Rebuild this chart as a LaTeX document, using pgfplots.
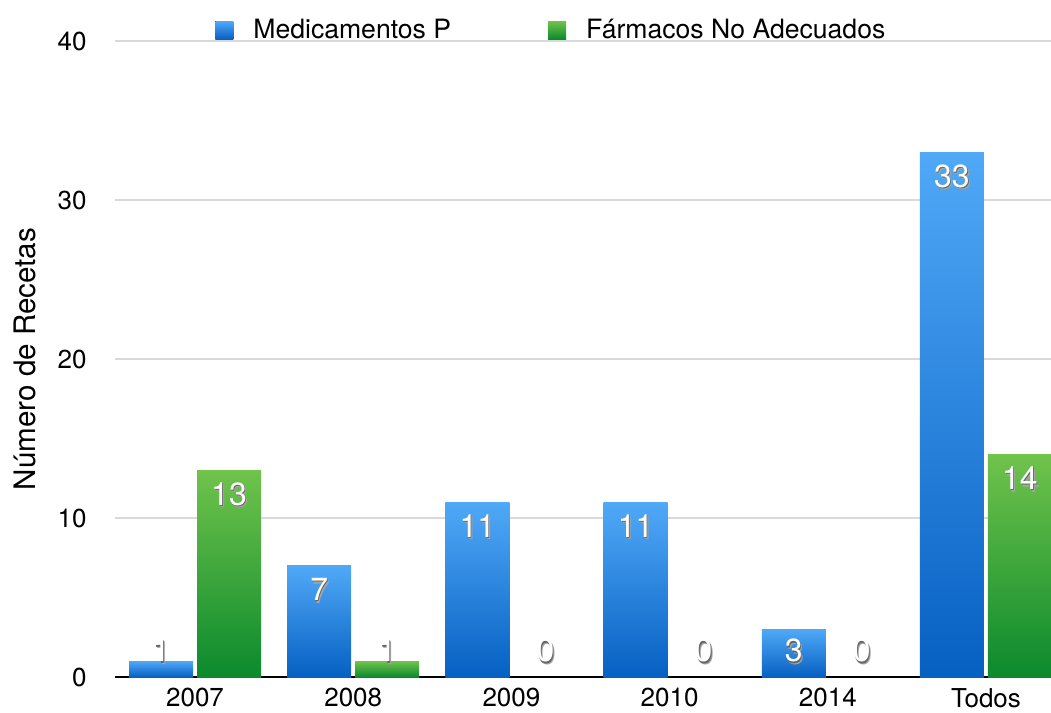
\documentclass[border=0pt]{standalone}
\usepackage{fontspec}
\setmainfont{TeX Gyre Heros}
\usepackage{pgfplots}
\usepackage{pgfplotstable}
\pgfplotsset{compat=1.18}

\definecolor{bluetop}{HTML}{50A9F7}
\definecolor{bluebot}{HTML}{0660C2}
\definecolor{greentop}{HTML}{70C34B}
\definecolor{greenbot}{HTML}{0B8A2D}
\definecolor{gridgray}{HTML}{D9D9D9}

% white label with a soft dark drop shadow
\newcommand\shadowed[1]{%
  \makebox[0pt][l]{\hspace{0.9pt}\raisebox{-1.3pt}{\smash{\color{black!35}#1}}}%
  \makebox[0pt][l]{\hspace{0.4pt}\raisebox{-0.7pt}{\smash{\color{black!60}#1}}}%
  #1}

% axis is 468pt wide over 5.917 units -> 79.09pt per category; 318pt/40 -> 7.95pt per unit
% each bar is a shaded node hung from its data point down to y=0
\pgfplotsset{
  shaded bar/.style n args={3}{
    draw=none, mark=none,
    y filter/.expression={y==0 ? nan : y},
    nodes near coords={},
    nodes near coords style={anchor=north, inner sep=0pt, outer sep=0pt,
        minimum width=32pt, minimum height={\rawy*7.95pt},
        xshift=#1, top color=#2, bottom color=#3, draw=none},
    legend image code/.code={\fill[top color=#2, bottom color=#3]
        (0pt,-4.5pt) rectangle (9pt,4.5pt);},
  },
  value labels/.style={
    draw=none, mark=none, forget plot,
    nodes near coords={\shadowed{\pgfmathprintnumber{\pgfplotspointmeta}}},
    nodes near coords style={anchor=center, text=white,
        font=\fontsize{16}{16}\selectfont, xshift=#1,
        yshift={max(-12.5,12.7-7.95*\rawy)}},
  },
}

% x: 0=2007 1=2008 2=2009 3=2010 4=2014 5=Todos
\pgfplotstableread{
x y
0 1
1 7
2 11
3 11
4 3
5 33
}\medp
\pgfplotstableread{
x y
0 13
1 1
2 0
3 0
4 0
5 14
}\farm

\begin{document}
\begin{tikzpicture}
\begin{axis}[
    scale only axis,
    width=468pt, height=318pt,
    xmin=-0.506, xmax=5.411,
    ymin=0, ymax=40,
    ytick={0,10,20,30,40},
    xtick={0,1,2,3,4,5},
    xticklabels={2007,2008,2009,2010,2014,Todos},
    major tick length=0pt,
    ymajorgrids,
    grid style={gridgray, line width=0.75pt},
    axis x line*=bottom,
    axis y line*=left,
    x axis line style={black, line width=1pt, -},
    y axis line style={draw=none},
    /pgf/number format/assume math mode=true,
    tick label style={font=\fontsize{13}{15}\selectfont},
    yticklabel style={anchor=east, inner sep=0pt},
    yticklabel shift=14pt,
    xticklabel style={anchor=north, inner sep=0pt, yshift=-5.5pt},
    ylabel={Número de Recetas},
    ylabel style={at={(axis description cs:-0.096,0.5)}, anchor=center,
        font=\fontsize{14.8}{16}\selectfont},
    clip=false,
    legend columns=2,
    legend style={at={(axis description cs:0.1068,1.017)}, anchor=west,
        draw=none, fill=none, inner sep=0pt,
        font=\fontsize{13.3}{15}\selectfont,
        /tikz/every odd column/.append style={column sep=8pt},
        /tikz/every even column/.append style={column sep=46.5pt}},
    visualization depends on={y \as \rawy},
]
\addplot[shaded bar={-17pt}{bluetop}{bluebot}] table[x=x, y=y] {\medp};
\addplot[shaded bar={17pt}{greentop}{greenbot}] table[x=x, y=y] {\farm};
\legend{Medicamentos P, Fármacos No Adecuados}
\addplot[value labels=-17pt] table[x=x, y=y] {\medp};
\addplot[value labels=17pt] table[x=x, y=y] {\farm};
\end{axis}
\pgfresetboundingbox
\useasboundingbox ([shift={(-57.5pt,-18pt)}]current axis.south west)
    rectangle ([shift={(0pt,20.5pt)}]current axis.north east);
\end{tikzpicture}
\end{document}
